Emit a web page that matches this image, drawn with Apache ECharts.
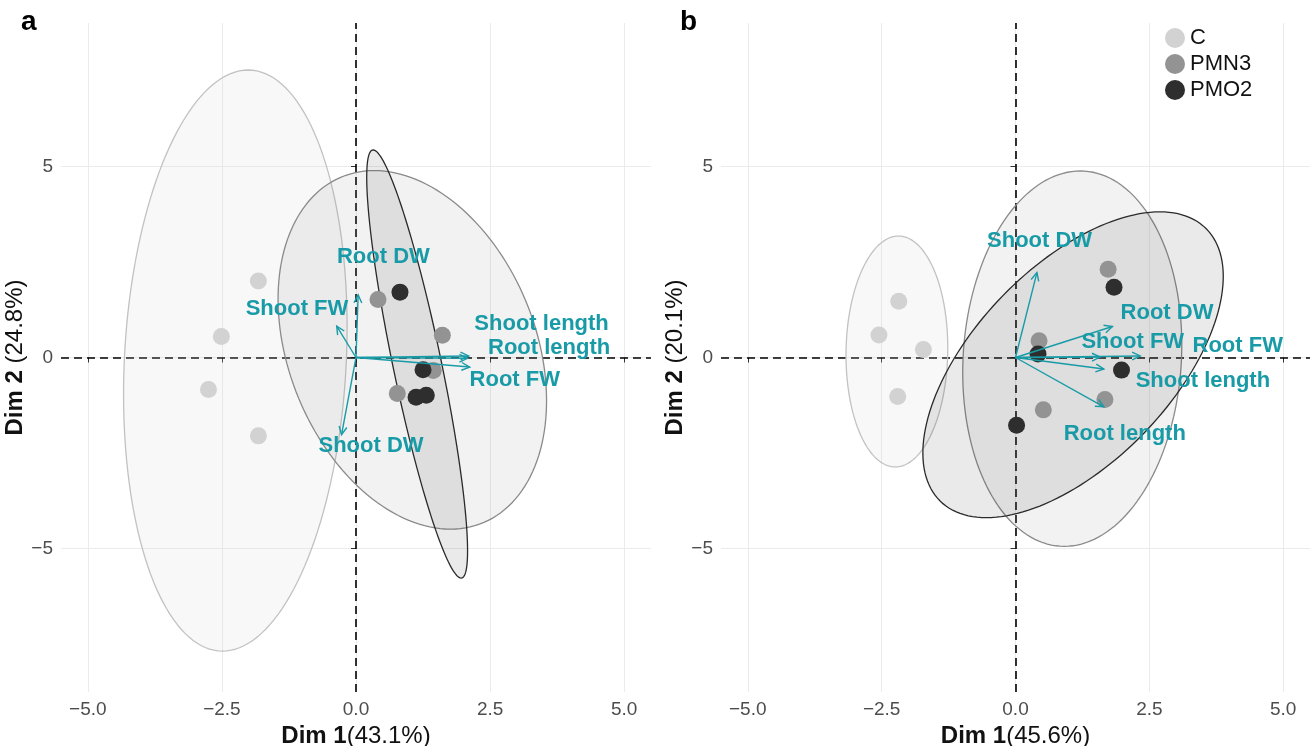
<!DOCTYPE html>
<html>
<head>
<meta charset="utf-8">
<script src="https://cdn.jsdelivr.net/npm/echarts@6/dist/echarts.min.js"></script>
<style>
  html, body { margin: 0; background: #fff; }
  #chart { width: 1310px; height: 746px; }
</style>
</head>
<body>
<div id="chart"></div>
<script>
// groups
const groups = ['C', 'PMN3', 'PMO2'];

// panel a: individuals
const aC = [[-1.82, 2.0], [-2.51, 0.55], [-2.75, -0.84], [-1.82, -2.05]];
const aPMN3 = [[0.41, 1.52], [1.61, 0.58], [1.44, -0.34], [0.77, -0.94]];
const aPMO2 = [[0.82, 1.71], [1.25, -0.32], [1.12, -1.04], [1.31, -0.99]];
// panel a: variables (arrow tips + label spots)
const aVarNames = ['Root DW', 'Shoot FW', 'Shoot length', 'Root length', 'Root FW', 'Shoot DW'];
const aArrows = [[0.04, 1.64], [-0.36, 0.82], [2.10, 0.04], [2.08, -0.02], [2.12, -0.25], [-0.27, -2.02]];
const aLabels = [[0.51, 2.62], [-1.10, 1.26], [3.46, 0.87], [3.60, 0.26], [2.96, -0.60], [0.28, -2.31]];
// ellipses: [cx, cy, top dx, top dy, half width]
const aEllipses = [[-2.25, -0.08, 0.24, 7.6, 2.07], [1.05, 0.2, -0.71, 4.69, 2.40], [1.14, -0.17, -0.82, 5.6, 0.46]];

// panel b
const bC = [[-2.18, 1.47], [-2.55, 0.59], [-1.72, 0.21], [-2.2, -1.02]];
const bPMN3 = [[1.73, 2.31], [0.44, 0.44], [1.67, -1.1], [0.52, -1.37]];
const bPMO2 = [[1.84, 1.84], [0.42, 0.09], [1.98, -0.33], [0.02, -1.77]];
const bVarNames = ['Shoot DW', 'Root DW', 'Shoot FW', 'Root FW', 'Shoot length', 'Root length'];
const bArrows = [[0.40, 2.22], [1.81, 0.81], [1.58, 0.01], [2.33, 0.04], [1.65, -0.30], [1.65, -1.29]];
const bLabels = [[0.45, 3.05], [2.83, 1.16], [2.19, 0.40], [4.15, 0.31], [3.50, -0.62], [2.04, -1.99]];
const bEllipses = [[-2.215, 0.157, 0.03, 3.02, 0.95], [1.06, -0.03, 0.15, 4.91, 2.04], [1.075, -0.19, 1.62, 4.0, 2.29]];

const xTicks = [-5, -2.5, 0, 2.5, 5];
const yTicks = [-5, 0, 5];
const xTitles = ['{b|Dim 1}(43.1%)', '{b|Dim 1}(45.6%)'];
const yTitles = ['{b|Dim 2} (24.8%)', '{b|Dim 2} (20.1%)'];

const FONT = '"Liberation Sans", Arial, Helvetica, sans-serif';
const TEAL = '#189ba7';
const pointColors = ['#d2d2d2', '#939393', '#2e2e2e'];
const lineColors = ['#c2c2c2', '#8a8a8a', '#2a2a2a'];
const fillColors = ['rgba(210,210,210,0.16)', 'rgba(147,147,147,0.12)', 'rgba(46,46,46,0.10)'];

function minus(s) {
    return String(s).replace('-', '\u2212');
}

function ellipseItem(params, api) {
    let cx = api.value(0), cy = api.value(1), tx = api.value(2), ty = api.value(3), h = api.value(4);
    let pts = [];
    for (let i = 0; i < 160; i++) {
        let t = i / 160 * Math.PI * 2;
        pts.push(api.coord([cx + Math.cos(t) * tx + Math.sin(t) * h, cy + Math.cos(t) * ty]));
    }
    let k = params.dataIndex;
    return {
        type: 'polygon',
        shape: { points: pts },
        style: { fill: fillColors[k], stroke: lineColors[k], lineWidth: 1.3 }
    };
}

function arrowItem(params, api) {
    let o = api.coord([0, 0]);
    let p = api.coord([api.value(0), api.value(1)]);
    let ang = Math.atan2(p[1] - o[1], p[0] - o[0]);
    let L = 9, A = Math.PI / 7;
    let w1 = [p[0] - L * Math.cos(ang - A), p[1] - L * Math.sin(ang - A)];
    let w2 = [p[0] - L * Math.cos(ang + A), p[1] - L * Math.sin(ang + A)];
    return {
        type: 'group',
        children: [
            { type: 'line', shape: { x1: o[0], y1: o[1], x2: p[0], y2: p[1] }, style: { stroke: TEAL, lineWidth: 1.4 } },
            { type: 'polyline', shape: { points: [w1, p, w2] }, style: { stroke: TEAL, lineWidth: 1.4, fill: null } }
        ]
    };
}

function labelRenderer(names) {
    return function (params, api) {
        let p = api.coord([api.value(0), api.value(1)]);
        return {
            type: 'text',
            x: p[0], y: p[1],
            style: {
                text: names[params.dataIndex],
                fill: TEAL,
                font: 'bold 22px ' + FONT,
                align: 'center',
                verticalAlign: 'middle'
            }
        };
    };
}

function xAxisFor(i) {
    return {
        gridIndex: i, type: 'value', min: -5.5, max: 5.5,
        axisLine: { show: false },
        axisTick: { show: true, customValues: xTicks, length: 5, lineStyle: { color: '#333', width: 1 } },
        axisLabel: { customValues: xTicks, formatter: v => minus(v.toFixed(1)), fontSize: 19, color: '#4d4d4d', fontFamily: FONT, margin: 8 },
        splitLine: { show: true, lineStyle: { color: '#ebebeb', width: 1 } },
        name: xTitles[i], nameLocation: 'middle', nameGap: 23,
        nameTextStyle: { fontSize: 24, color: '#111', fontFamily: FONT, rich: { b: { fontSize: 24, fontWeight: 'bold', color: '#111', fontFamily: FONT } } }
    };
}

function yAxisFor(i) {
    return {
        gridIndex: i, type: 'value', min: -8.75, max: 8.75,
        axisLine: { show: false },
        axisTick: { show: true, customValues: yTicks, length: 5, lineStyle: { color: '#333', width: 1 } },
        axisLabel: { customValues: yTicks, formatter: v => minus(v), fontSize: 19, color: '#4d4d4d', fontFamily: FONT, margin: 8 },
        splitLine: { show: true, lineStyle: { color: '#ebebeb', width: 1 } },
        name: yTitles[i], nameLocation: 'middle', nameGap: 28,
        nameTextStyle: { fontSize: 24, color: '#111', fontFamily: FONT, rich: { b: { fontSize: 24, fontWeight: 'bold', color: '#111', fontFamily: FONT } } }
    };
}

function panelSeries(i, pts, ellipses, arrows, labels, names) {
    let list = [];
    list.push({
        type: 'custom', xAxisIndex: i, yAxisIndex: i, z: 1, silent: true,
        renderItem: ellipseItem, data: ellipses,
        markLine: {
            silent: true, symbol: 'none', z: 1,
            label: { show: false },
            lineStyle: { color: '#000', type: [8, 5], width: 1.6 },
            data: [{ xAxis: 0 }, { yAxis: 0 }]
        }
    });
    for (let g = 0; g < groups.length; g++) {
        list.push({
            type: 'scatter', name: groups[g], xAxisIndex: i, yAxisIndex: i, z: 3,
            symbol: 'circle', symbolSize: 17,
            itemStyle: { color: pointColors[g], opacity: 1 },
            data: pts[g]
        });
    }
    list.push({ type: 'custom', xAxisIndex: i, yAxisIndex: i, z: 4, silent: true, renderItem: arrowItem, data: arrows });
    list.push({ type: 'custom', xAxisIndex: i, yAxisIndex: i, z: 5, silent: true, renderItem: labelRenderer(names), data: labels });
    return list;
}

let chart = echarts.init(document.getElementById('chart'));
let option = {
    animation: false,
    backgroundColor: '#fff',
    textStyle: { fontFamily: FONT },
    grid: [
        { left: 61, top: 23, width: 590, height: 669, outerBoundsMode: 'none', containLabel: false },
        { left: 721, top: 23, width: 589, height: 669, outerBoundsMode: 'none', containLabel: false }
    ],
    xAxis: [xAxisFor(0), xAxisFor(1)],
    yAxis: [yAxisFor(0), yAxisFor(1)],
    legend: {
        data: groups, orient: 'vertical', left: 1160, top: 22,
        icon: 'circle', itemWidth: 20, itemHeight: 20, itemGap: 4,
        selectedMode: false,
        textStyle: { fontSize: 22, color: '#111', fontFamily: FONT }
    },
    graphic: [
        { type: 'text', x: 21, y: 22, style: { text: 'a', font: 'bold 28px ' + FONT, fill: '#000', verticalAlign: 'middle' } },
        { type: 'text', x: 680, y: 22, style: { text: 'b', font: 'bold 28px ' + FONT, fill: '#000', verticalAlign: 'middle' } }
    ],
    series: [].concat(
        panelSeries(0, [aC, aPMN3, aPMO2], aEllipses, aArrows, aLabels, aVarNames),
        panelSeries(1, [bC, bPMN3, bPMO2], bEllipses, bArrows, bLabels, bVarNames)
    )
};
chart.setOption(option);
</script>
</body>
</html>
